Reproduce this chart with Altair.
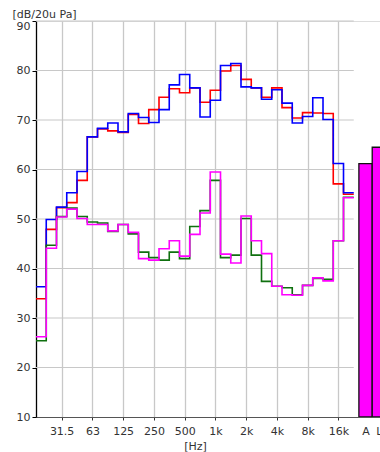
import altair as alt
import pandas as pd

# Third-octave band centre frequencies (Hz) and their labels
bands = ["20", "25", "31.5", "40", "50", "63", "80", "100", "125", "160",
         "200", "250", "315", "400", "500", "630", "800", "1k", "1.25k", "1.6k",
         "2k", "2.5k", "3.15k", "4k", "5k", "6.3k", "8k", "10k", "12.5k", "16k", "20k"]

# Sound pressure level per band, dB re 20 uPa
red = [33.9, 47.9, 52.3, 53.3, 57.8, 66.6, 68.2, 67.8, 67.5, 71.1,
       69.3, 72.1, 74.6, 76.3, 75.5, 76.5, 73.6, 76.0, 79.9, 81.0,
       78.2, 76.5, 74.6, 76.5, 72.5, 70.4, 71.5, 71.4, 71.3, 57.1, 55.0]
blue = [36.3, 49.9, 52.4, 55.3, 59.6, 66.6, 68.3, 69.4, 67.6, 71.3,
        70.5, 69.5, 72.1, 77.1, 79.2, 76.5, 70.6, 74.0, 81.0, 81.4,
        76.7, 76.5, 74.2, 76.1, 73.4, 69.4, 70.7, 74.5, 70.1, 61.2, 55.3]
green = [25.4, 44.7, 50.5, 52.2, 50.5, 49.4, 49.2, 47.5, 48.9, 47.0,
         43.3, 42.2, 41.7, 43.3, 42.0, 48.5, 51.7, 57.8, 42.2, 42.7,
         50.1, 42.7, 37.4, 36.4, 36.1, 34.7, 36.6, 38.0, 37.8, 45.6, 54.4]
magenta = [26.2, 44.1, 50.4, 52.0, 50.1, 48.9, 48.9, 47.6, 48.9, 47.3,
           42.0, 41.7, 44.0, 45.6, 42.5, 46.9, 51.2, 59.5, 42.9, 41.1,
           50.6, 45.6, 43.0, 36.4, 34.7, 34.6, 36.6, 38.1, 37.5, 45.6, 54.3]

# Overall levels shown as bars
total_labels = ["A", "L"]
total_values = [61.2, 64.5]

series = [("red", red, "#ff0000"), ("blue", blue, "#0000ff"),
          ("green", green, "#0f700f"), ("magenta", magenta, "#ff00ff")]

n = len(bands)
octave_labels = ["31.5", "63", "125", "250", "500", "1k", "2k", "4k", "8k", "16k"]
octave_pos = [bands.index(b) for b in octave_labels]

# Step lines: each band is drawn from its lower edge to its upper edge
rows = []
for name, vals, _ in series:
    for i, v in enumerate(vals):
        rows.append({"s": name, "x": i - 0.5, "v": v})
    rows.append({"s": name, "x": n - 0.5, "v": vals[-1]})
lines_df = pd.DataFrame(rows)

# Bars sit after the last band, each 1.3 band widths wide
bar_w = 1.3
bar_x0 = n
bars_df = pd.DataFrame({
    "label": total_labels,
    "x0": [bar_x0 + k * bar_w for k in range(len(total_labels))],
    "x1": [bar_x0 + (k + 1) * bar_w for k in range(len(total_labels))],
    "v": total_values,
    "base": [10] * len(total_labels),
})
bar_centers = [bar_x0 + (k + 0.5) * bar_w for k in range(len(total_labels))]

tick_vals = octave_pos + bar_centers
tick_text = octave_labels + total_labels
label_expr = "''"
for pos, txt in zip(reversed(tick_vals), reversed(tick_text)):
    label_expr = f"abs(datum.value - {pos}) < 0.01 ? '{txt}' : ({label_expr})"

x_scale = alt.Scale(domain=[-0.5, 33.06], nice=False, zero=False)
y_scale = alt.Scale(domain=[10, 90], nice=False, zero=False)

FONT = "DejaVu Sans"

x_axis = alt.Axis(
    values=tick_vals, labelExpr=label_expr, title="[Hz]",
    grid=True,
    gridColor={"condition": {"test": "datum.value > 30.5", "value": "transparent"},
               "value": "#c8c8c8"},
    gridWidth=1.3,
    tickColor={"condition": {"test": "datum.value > 30.5", "value": "transparent"},
               "value": "#333333"},
    tickSize=3, labelPadding=5, labelFont=FONT, labelFontSize=11,
    labelColor="#333333", labelFlush=False, labelOverlap=False, labelBound=False,
    labelSeparation=0,
    domainColor="#555555", domainWidth=1.2,
    titleFont=FONT, titleFontSize=11, titleFontWeight="normal", titleColor="#333333",
    titleX=159, titleY=32, titleBaseline="alphabetic", titleAlign="center",
)
y_axis = alt.Axis(
    values=list(range(10, 91, 10)), grid=False, title="[dB/20u Pa]",
    tickSize=4, tickColor="#000000", labelPadding=2, labelFont=FONT,
    labelFontSize=11, labelColor="#333333", labelOverlap=False,
    labelOffset={"condition": {"test": "datum.value >= 90", "value": 5}, "value": 0},
    domainColor="#000000", domainWidth=1.3,
    titleAngle=0, titleAlign="left", titleBaseline="middle",
    titleX=-24, titleY=-7, titleFont=FONT, titleFontSize=11,
    titleFontWeight="normal", titleColor="#333333",
)

# Horizontal grid spanning the frequency bands only
hgrid_df = pd.DataFrame({"y": list(range(20, 91, 10)), "x0": -0.5, "x1": n - 0.5})
hgrid = alt.Chart(hgrid_df).mark_rule(color="#c8c8c8", strokeWidth=1.2).encode(
    x=alt.X("x0:Q", scale=x_scale, axis=x_axis),
    x2="x1:Q",
    y=alt.Y("y:Q", scale=y_scale, axis=y_axis),
)

lines = alt.Chart(lines_df).mark_line(interpolate="step-after", strokeWidth=1.6).encode(
    x=alt.X("x:Q", scale=x_scale, axis=x_axis),
    y=alt.Y("v:Q", scale=y_scale, axis=y_axis),
    color=alt.Color("s:N", scale=alt.Scale(domain=[s[0] for s in series],
                                           range=[s[2] for s in series]), legend=None),
    order=alt.Order("x:Q"),
    detail="s:N",
)

bars = alt.Chart(bars_df).mark_bar(color="#ff00ff", stroke="#111111", strokeWidth=1.3,
                                   clip=True).encode(
    x=alt.X("x0:Q", scale=x_scale, axis=x_axis),
    x2="x1:Q",
    y=alt.Y("base:Q", scale=y_scale, axis=y_axis),
    y2="v:Q",
)

chart = alt.layer(hgrid, lines, bars).properties(
    width=344, height=396,
    padding={"left": 36, "top": 21, "right": 0, "bottom": 35},
    autosize=alt.AutoSizeParams(type="none"),
).configure_view(stroke=None).configure(background="white").configure_axis(
    labelOverlap=False
)

chart.save("out.html", embed_options={"renderer": "svg", "actions": False})
